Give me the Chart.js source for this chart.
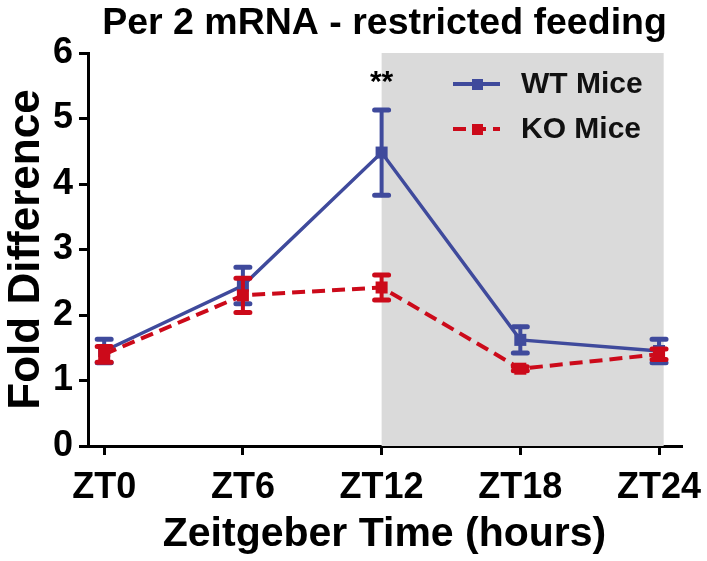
<!DOCTYPE html>
<html>
<head>
<meta charset="utf-8">
<script src="https://cdn.jsdelivr.net/npm/chart.js@4.4.1/dist/chart.umd.min.js"></script>
<style>
  html, body { margin: 0; padding: 0; background: #fff; }
  #wrap { width: 707px; height: 561px; }
</style>
</head>
<body>
<div id="wrap"><canvas id="per2"></canvas></div>
<script>
// hours after lights on
const hours = [0, 6, 12, 18, 24];
const hourLabels = ['ZT0', 'ZT6', 'ZT12', 'ZT18', 'ZT24'];

const wtMean = [1.45, 2.45, 4.48, 1.62, 1.45];
const wtErr  = [0.18, 0.28, 0.65, 0.20, 0.18];
const koMean = [1.40, 2.30, 2.42, 1.18, 1.40];
const koErr  = [0.12, 0.26, 0.19, 0.03, 0.08];

const darkFrom = 12;
const darkTo = 24.2;
const starHour = 12;
const starValue = 5.55;

const BLUE = '#3F4A9C';
const RED = '#CC0A1A';
const FONT = "'Liberation Sans', Arial, sans-serif";

const toPoints = (ys) => hours.map((h, i) => ({ x: h, y: ys[i] }));

// grey band for the dark phase
const darkPhase = {
  id: 'darkPhase',
  beforeDatasetsDraw(chart) {
    const { ctx, scales: { x, y } } = chart;
    ctx.save();
    ctx.fillStyle = '#DADADA';
    const left = x.getPixelForValue(darkFrom);
    const right = x.getPixelForValue(darkTo);
    ctx.fillRect(left, y.getPixelForValue(6), right - left, y.getPixelForValue(0) - y.getPixelForValue(6));
    ctx.restore();
  }
};

// SEM whiskers, drawn under each dataset's own line
const errorBars = {
  id: 'errorBars',
  beforeDatasetDraw(chart, args) {
    const ds = chart.data.datasets[args.index];
    const { ctx, scales: { x, y } } = chart;
    ctx.save();
    ctx.strokeStyle = ds.borderColor;
    ctx.lineCap = 'round';
    ds.data.forEach((p, i) => {
      const px = x.getPixelForValue(p.x);
      const top = y.getPixelForValue(p.y + ds.err[i]);
      const bot = y.getPixelForValue(p.y - ds.err[i]);
      ctx.lineWidth = 4;
      ctx.beginPath();
      ctx.moveTo(px, top);
      ctx.lineTo(px, bot);
      ctx.stroke();
      ctx.lineWidth = 5;
      ctx.beginPath();
      ctx.moveTo(px - 7, top); ctx.lineTo(px + 7, top);
      ctx.moveTo(px - 7, bot); ctx.lineTo(px + 7, bot);
      ctx.stroke();
    });
    ctx.restore();
  }
};

// legend box inside plot + significance stars
const extras = {
  id: 'extras',
  afterDraw(chart) {
    const { ctx, scales: { x, y } } = chart;
    ctx.save();
    ctx.fillStyle = '#000';
    ctx.font = 'bold 30px ' + FONT;
    ctx.textAlign = 'center';
    ctx.textBaseline = 'middle';
    ctx.fillText('**', x.getPixelForValue(starHour), y.getPixelForValue(starValue));

    const rows = [
      { ds: chart.data.datasets[0], yy: 84 },
      { ds: chart.data.datasets[1], yy: 129 }
    ];
    rows.forEach(r => {
      ctx.strokeStyle = r.ds.borderColor;
      ctx.fillStyle = r.ds.borderColor;
      ctx.lineWidth = 4;
      ctx.setLineDash(r.ds.borderDash || []);
      ctx.beginPath();
      ctx.moveTo(453, r.yy);
      ctx.lineTo(500, r.yy);
      ctx.stroke();
      ctx.setLineDash([]);
      ctx.fillRect(472, r.yy - 5, 11, 11);
      ctx.fillStyle = '#111';
      ctx.textAlign = 'left';
      ctx.font = 'bold 30px ' + FONT;
      ctx.fillText(r.ds.label, 521, r.yy + 1);
    });
    ctx.restore();
  }
};

new Chart(document.getElementById('per2'), {
  type: 'line',
  data: {
    datasets: [
      {
        label: 'WT Mice',
        data: toPoints(wtMean),
        err: wtErr,
        borderColor: BLUE,
        backgroundColor: BLUE,
        borderWidth: 3.5,
        pointStyle: 'rect',
        pointRadius: 8.5,
        pointBorderWidth: 0,
        order: 2
      },
      {
        label: 'KO Mice',
        data: toPoints(koMean),
        err: koErr,
        borderColor: RED,
        backgroundColor: RED,
        borderWidth: 4,
        borderDash: [13, 7],
        pointStyle: 'rect',
        pointRadius: 8.5,
        pointBorderWidth: 0,
        order: 1
      }
    ]
  },
  options: {
    responsive: true,
    maintainAspectRatio: false,
    animation: false,
    layout: { padding: { left: 0, right: 26, top: 0, bottom: 0 } },
    plugins: {
      legend: { display: false },
      tooltip: { enabled: false },
      title: {
        display: true,
        fullSize: false,
        text: 'Per 2 mRNA - restricted feeding',
        color: '#000',
        font: { family: FONT, size: 37.5, weight: 'bold' },
        padding: { top: 1, bottom: 7 }
      }
    },
    scales: {
      x: {
        type: 'linear',
        min: -0.7,
        max: 24.95,
        afterBuildTicks: (s) => { s.ticks = hours.map(v => ({ value: v })); },
        afterFit: (s) => { s.height = 115; s.paddingLeft = 0; s.paddingRight = 0; },
        ticks: {
          callback: (v) => hourLabels[hours.indexOf(v)],
          color: '#000',
          font: { family: FONT, size: 36, weight: 'bold' },
          padding: 11,
          maxRotation: 0
        },
        grid: { drawOnChartArea: false, tickLength: 9, color: '#000', lineWidth: 3 },
        border: { display: true, color: '#000', width: 3 },
        title: {
          display: true,
          text: 'Zeitgeber Time (hours)',
          color: '#000',
          font: { family: FONT, size: 41, weight: 'bold' },
          padding: { top: 0, bottom: 2 }
        }
      },
      y: {
        min: 0,
        max: 6,
        afterFit: (s) => { s.width = 88; },
        ticks: {
          stepSize: 0.5,
          callback: (v) => (Number.isInteger(v) ? v : ''),
          color: '#000',
          font: { family: FONT, size: 36, weight: 'bold' },
          padding: 6
        },
        grid: { drawOnChartArea: false, tickLength: 9, color: '#000', lineWidth: 3 },
        border: { display: true, color: '#000', width: 3 },
        title: {
          display: true,
          text: 'Fold Difference',
          color: '#000',
          font: { family: FONT, size: 44, weight: 'bold' },
          padding: { top: 0, bottom: 0 }
        }
      }
    }
  },
  plugins: [darkPhase, errorBars, extras]
});
</script>
</body>
</html>
